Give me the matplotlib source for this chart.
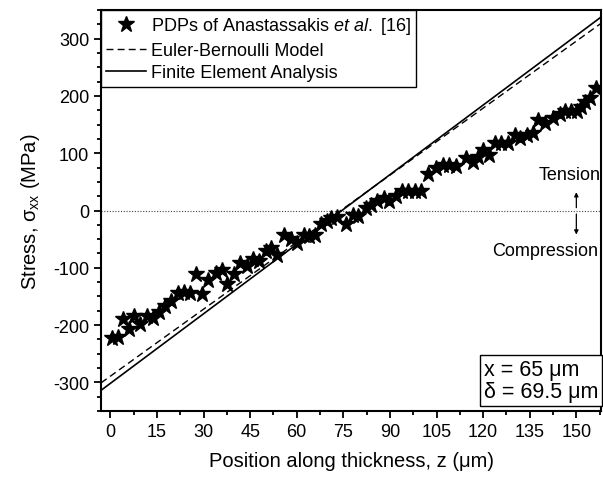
import matplotlib
matplotlib.use("Agg")
import matplotlib.pyplot as plt
from matplotlib.ticker import MultipleLocator

plt.rcParams['font.family'] = ['Liberation Sans', 'DejaVu Sans']
plt.rcParams['mathtext.fontset'] = 'custom'
plt.rcParams['mathtext.rm'] = 'Liberation Sans'
plt.rcParams['mathtext.it'] = 'Liberation Sans:italic'
plt.rcParams['axes.unicode_minus'] = False

# measured stress profile (PDPs), position in um and stress in MPa
z_pdp = [0.5, 2.5, 4, 6, 7.5, 9.7, 11.8, 13.8, 15.6, 17.7, 19.6, 21.7, 23.7,
         25.6, 27.7, 29.6, 31.4, 33.9, 36, 37.6, 39.8, 41.9, 43.9, 46, 47.8,
         50, 51.8, 53.8, 55.9, 58.1, 60, 62.2, 64, 65.8, 67.7, 69.9, 71,
         73.1, 75.8, 78, 79.8, 82.3, 83.9, 85.8, 88, 89.8, 91.9, 93.8, 95.9,
         98, 100, 102.4, 104.8, 107, 109.1, 111.3, 114.5, 116.7, 118.3,
         119.9, 122, 123.7, 125.8, 128, 130.1, 132, 134.2, 136, 137.8, 140,
         142.5, 144.6, 146.2, 148.4, 150.3, 151.6, 152.7, 154.3, 156.3]
s_pdp = [-222, -221, -190, -206, -184, -198, -185, -188, -177, -166, -158,
         -144, -143, -144, -111, -146, -121, -109, -103, -129, -111, -91,
         -97, -85, -88, -71, -66, -77, -43, -50, -56, -42, -45, -42, -24,
         -19, -13, -11, -24, -7, -9, 5, 9, 16, 22, 16, 26, 34, 34, 34, 34,
         64, 74, 79, 79, 77, 92, 85, 94, 106, 97, 118, 118, 118, 131, 126,
         132, 135, 158, 153, 161, 168, 173, 173, 173, 181, 189, 197, 214]

# linear models across the thickness
z_model = [-3, 158]
s_euler = [-301, 327]
s_fea = [-314, 338]

fig = plt.figure(figsize=(6.03, 4.81), dpi=100)
ax = fig.add_axes([0.1675, 0.1435, 0.8295, 0.8335])

ax.axhline(0, color='#444444', lw=0.8, ls=(0, (1, 1.5)), zorder=1)
ax.plot(z_pdp, s_pdp, ls='none', marker='*', ms=12, color='black',
        label=r'PDPs of Anastassakis $\mathit{et\ al.}$ [16]', zorder=3)
ax.plot(z_model, s_euler, color='black', lw=1.0, ls=(0, (5, 3)),
        label='Euler-Bernoulli Model', zorder=2)
ax.plot(z_model, s_fea, color='black', lw=1.2, label='Finite Element Analysis',
        zorder=2)

ax.set_xlim(-3, 158)
ax.set_ylim(-350, 350)
ax.xaxis.set_major_locator(MultipleLocator(15))
ax.xaxis.set_minor_locator(MultipleLocator(7.5))
ax.yaxis.set_major_locator(MultipleLocator(100))
ax.yaxis.set_minor_locator(MultipleLocator(25))
ax.tick_params(which='both', direction='out', labelsize=13, width=1.3,
               top=False, right=False)
ax.tick_params(which='major', length=5)
ax.tick_params(which='minor', length=3)
for sp in ax.spines.values():
    sp.set_linewidth(1.5)

ax.set_xlabel(r'Position along thickness, z (μm)', fontsize=14.5, labelpad=8)
ax.set_ylabel(r'Stress, σ$_{\rm xx}$ (MPa)', fontsize=14.5, labelpad=8)

leg = ax.legend(loc='upper left', fontsize=13,
                fancybox=False, edgecolor='black', framealpha=1,
                handlelength=2.2, handletextpad=0.25, labelspacing=0.3,
                borderpad=0.3, borderaxespad=0)
leg.get_frame().set_linewidth(1.0)

# tension / compression indicator
arrow_kw = dict(arrowstyle='-|>', color='black', lw=0.9, mutation_scale=6,
                shrinkA=0, shrinkB=0)
ax.annotate('', xy=(150, 32), xytext=(150, 5), arrowprops=arrow_kw)
ax.annotate('', xy=(150, -42), xytext=(150, -6), arrowprops=arrow_kw)
ax.text(148, 63, 'Tension', fontsize=13, ha='center', va='center')
ax.text(140, -70, 'Compression', fontsize=13, ha='center', va='center')

ax.text(0.994, 0.022, 'x = 65 μm\nδ = 69.5 μm', transform=ax.transAxes,
        fontsize=15.5, ha='right', va='bottom', multialignment='left',
        linespacing=1.05,
        bbox=dict(boxstyle='square,pad=0.2', fc='white', ec='black', lw=1.0))

fig.savefig('out.png', dpi=100)
